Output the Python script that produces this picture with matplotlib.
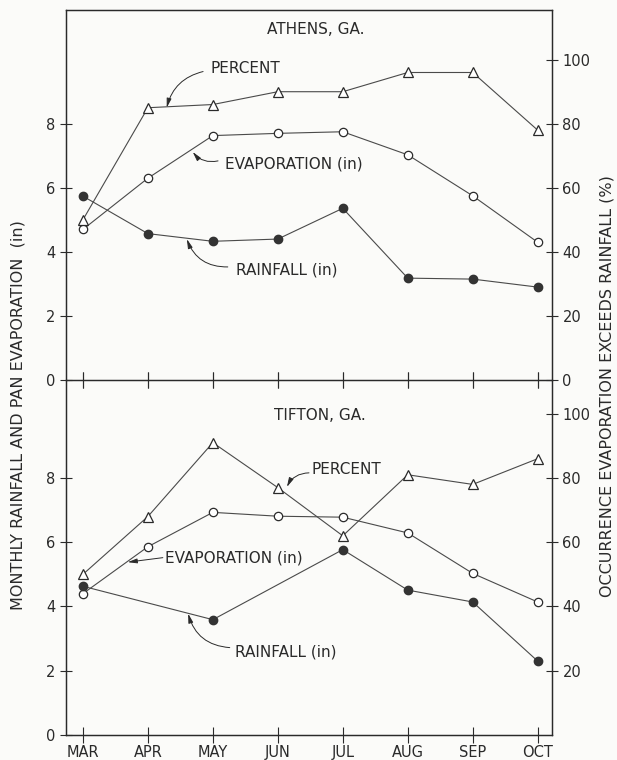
import matplotlib
matplotlib.use("Agg")
import matplotlib.pyplot as plt
import numpy as np

# ---- data ----
months = ["MAR", "APR", "MAY", "JUN", "JUL", "AUG", "SEP", "OCT"]

athens_percent = [50, 85, 86, 90, 90, 96, 96, 78]
athens_evap = [4.7, 6.3, 7.63, 7.7, 7.75, 7.03, 5.75, 4.3]
athens_rain = [5.74, 4.57, 4.33, 4.4, 5.36, 3.18, 3.15, 2.9]

tifton_percent = [50, 68, 91, 77, 62, 81, 78, 86]
tifton_evap = [4.4, 5.86, 6.93, 6.81, 6.78, 6.29, 5.03, 4.14]
tifton_rain = [4.63, np.nan, 3.59, np.nan, 5.77, 4.51, 4.14, 2.3]

INK = "#2a2a2a"
LINE = "#4a4a4a"
BG = "#fbfbf9"

plt.rcParams["font.family"] = "DejaVu Sans"
plt.rcParams["font.size"] = 10

fig = plt.figure(figsize=(6.17, 7.6), dpi=100, facecolor=BG)
L, R = 0.107, 0.8946
ax_top = fig.add_axes([L, 0.5, R - L, 0.9868 - 0.5])
ax_bot = fig.add_axes([L, 0.0329, R - L, 0.5 - 0.0329])

x = np.arange(len(months))


def draw_panel(ax, percent, evap, rain, ymax, right_ticks, show_xlabels):
    ax.set_facecolor("none")
    tw = ax.twinx()
    ax.set_xlim(-0.26, 7.22)
    ax.set_ylim(0, ymax)
    tw.set_ylim(0, ymax * 10)

    rain = np.asarray(rain, dtype=float)
    ok = ~np.isnan(rain)
    ax.plot(x, evap, color=LINE, lw=0.8, marker="o", ms=6,
            mfc="white", mec=INK, mew=0.9, zorder=3)
    ax.plot(x[ok], rain[ok], color=LINE, lw=0.8, marker="o", ms=6,
            mfc="#333333", mec="#333333", zorder=3)
    tw.plot(x, percent, color=LINE, lw=0.8, marker="^", ms=7.5,
            mfc="white", mec=INK, mew=0.9, zorder=3)

    ax.set_yticks([0, 2, 4, 6, 8])
    tw.set_yticks(right_ticks)
    ax.set_xticks(x)
    if show_xlabels:
        ax.set_xticklabels(months, fontsize=10)
    else:
        ax.set_xticklabels([])
    for a in (ax, tw):
        a.tick_params(direction="inout", length=9, width=0.8, colors=INK,
                      labelsize=10.5, pad=3)
        for s in a.spines.values():
            s.set_color(INK)
            s.set_linewidth(0.9)
    ax.tick_params(axis="x", length=11, pad=2)
    return tw


tw_top = draw_panel(ax_top, athens_percent, athens_evap, athens_rain, 11.55,
                    [0, 20, 40, 60, 80, 100], False)
tw_bot = draw_panel(ax_bot, tifton_percent, tifton_evap, tifton_rain, 11.05,
                    [20, 40, 60, 80, 100], True)
ax_bot.tick_params(axis="x", top=True, direction="inout")
ax_bot.spines["top"].set_visible(False)
tw_bot.spines["top"].set_visible(False)

TXT = 11


def label(ax, text, text_xy, tail, head, rad):
    ax.text(*text_xy, text, fontsize=TXT, color=INK, ha="left", va="center")
    ax.annotate("", xy=head, xytext=tail,
                arrowprops=dict(arrowstyle="-|>,head_length=0.55,head_width=0.14",
                                color=INK, lw=0.7, shrinkA=0, shrinkB=0,
                                connectionstyle=f"arc3,rad={rad}"))


# Athens
ax_top.text(3.58, 10.94, "ATHENS, GA.", fontsize=TXT, color=INK, ha="center", va="center")
label(ax_top, "PERCENT", (1.97, 9.72), (1.85, 9.63), (1.29, 8.5), 0.3)
label(ax_top, "EVAPORATION (in)", (2.18, 6.75), (2.08, 6.84), (1.69, 7.12), -0.3)
label(ax_top, "RAINFALL (in)", (2.35, 3.44), (2.23, 3.53), (1.6, 4.4), -0.35)

# Tifton
ax_bot.text(3.65, 9.95, "TIFTON, GA.", fontsize=TXT, color=INK, ha="center", va="center")
label(ax_bot, "PERCENT", (3.52, 8.25), (3.48, 8.16), (3.14, 7.72), 0.3)
label(ax_bot, "EVAPORATION (in)", (1.27, 5.52), (1.23, 5.52), (0.69, 5.38), 0.0)
label(ax_bot, "RAINFALL (in)", (2.34, 2.57), (2.26, 2.72), (1.62, 3.78), -0.35)

fig.text(0.029, 0.454, "MONTHLY RAINFALL AND PAN EVAPORATION  (in)",
         rotation=90, ha="center", va="center", fontsize=11.5, color=INK)
fig.text(0.984, 0.492, "OCCURRENCE EVAPORATION EXCEEDS RAINFALL (%)",
         rotation=90, ha="center", va="center", fontsize=11.5, color=INK)

fig.savefig("out.png", dpi=100, facecolor=BG)
